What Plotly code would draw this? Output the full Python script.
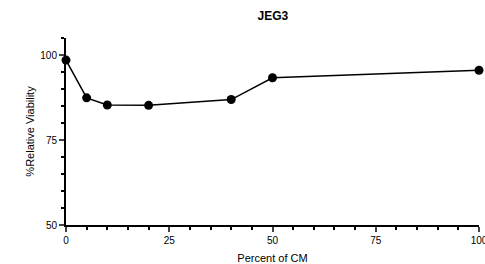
import plotly.graph_objects as go

percent_cm = [0, 5, 10, 20, 40, 50, 100]
viability = [98.5, 87.4, 85.3, 85.2, 86.9, 93.3, 95.5]
x_ticks = [0, 25, 50, 75, 100]
y_ticks = [50, 75, 100]

fig = go.Figure(go.Scatter(
    x=percent_cm, y=viability, mode="lines+markers",
    line=dict(color="black", width=1.5),
    marker=dict(color="black", size=9),
    cliponaxis=False,
))

font = "Liberation Sans, Arial, sans-serif"
fig.update_layout(
    width=485, height=264,
    margin=dict(l=66, r=6, t=38, b=39, autoexpand=False),
    plot_bgcolor="white", paper_bgcolor="white",
    showlegend=False,
    title=dict(text="<b>JEG3</b>", x=0.5625, xanchor="center", y=0.94, yanchor="middle",
               font=dict(family=font, size=12, color="black")),
    font=dict(family=font, color="black"),
)
fig.update_xaxes(
    range=[0, 100], tickvals=x_ticks, ticks="outside", ticklen=5, tickwidth=1.5,
    showline=True, linecolor="black", linewidth=2, showgrid=False, zeroline=False,
    tickfont=dict(size=10, family=font), automargin=False, ticklabeloverflow="allow",
    minor=dict(dtick=5, tick0=0, ticks="outside", ticklen=3, tickwidth=1.5, tickcolor="black"),
    title=dict(text="Percent of CM", font=dict(size=11, family=font), standoff=9),
)
fig.update_yaxes(
    range=[50, 105], tickvals=y_ticks, ticks="outside", ticklen=5, tickwidth=1.5,
    showline=True, linecolor="black", linewidth=2, showgrid=False, zeroline=False,
    tickfont=dict(size=10, family=font), automargin=False,
    minor=dict(dtick=5, tick0=50, ticks="outside", ticklen=3, tickwidth=1.5, tickcolor="black"),
    title=dict(text="%Relative Viability", font=dict(size=11, family=font), standoff=3),
)
fig.write_html("out.html", config={"displayModeBar": False},
               post_script="document.body.style.margin='0';")
